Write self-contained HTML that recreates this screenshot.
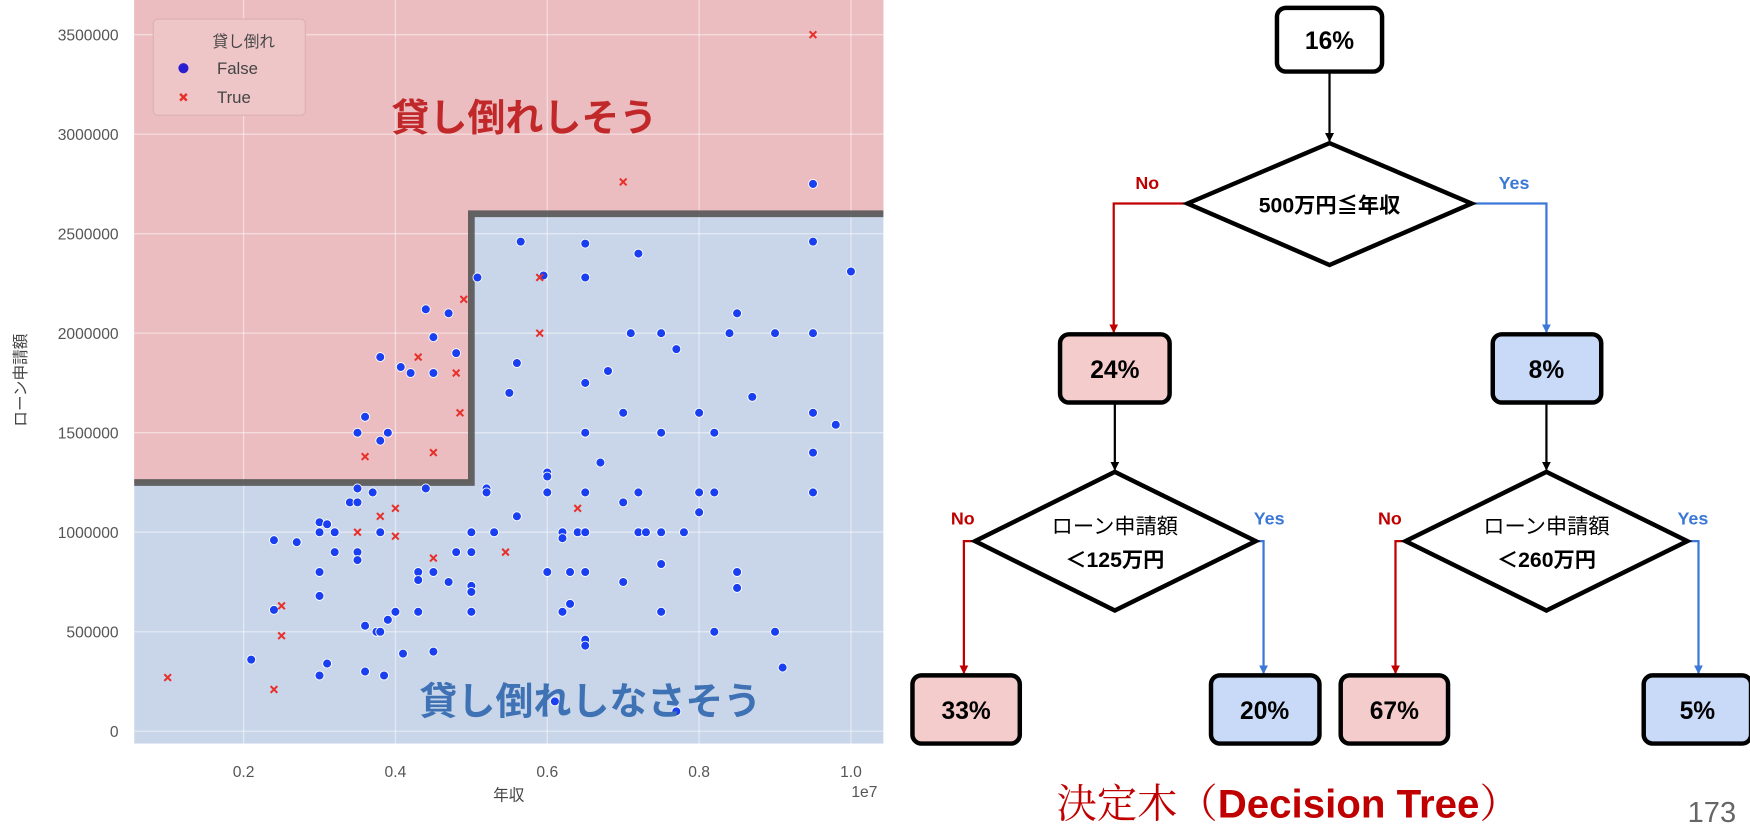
<!DOCTYPE html>
<html><head><meta charset="utf-8"><style>
html,body{margin:0;padding:0;background:#fff;width:1750px;height:833px;overflow:hidden}
svg{display:block}
text{font-family:"Liberation Sans","Noto Sans CJK JP",sans-serif}
</style></head><body>
<svg id="root" width="1750" height="833" viewBox="0 0 1565 745" xmlns="http://www.w3.org/2000/svg">
<g id="chart"></g>
<g id="tree">
  <defs>
    <marker id="ak" markerWidth="8" markerHeight="8" refX="7" refY="4" orient="auto" markerUnits="userSpaceOnUse"><path d="M0,0 L8,4 L0,8 z" fill="#000"/></marker>
    <marker id="ar" markerWidth="8" markerHeight="8" refX="7" refY="4" orient="auto" markerUnits="userSpaceOnUse"><path d="M0,0 L8,4 L0,8 z" fill="#c00000"/></marker>
    <marker id="ab" markerWidth="8" markerHeight="8" refX="7" refY="4" orient="auto" markerUnits="userSpaceOnUse"><path d="M0,0 L8,4 L0,8 z" fill="#3c78d8"/></marker>
  </defs>
  <g fill="none" stroke-width="2">
    <path d="M1189,64 V126" stroke="#000" marker-end="url(#ak)"/>
    <path d="M1062,182 H996 V297" stroke="#c00000" marker-end="url(#ar)"/>
    <path d="M1316,182 H1383 V297" stroke="#3c78d8" marker-end="url(#ab)"/>
    <path d="M997,360 V420" stroke="#000" marker-end="url(#ak)"/>
    <path d="M1383,360 V420" stroke="#000" marker-end="url(#ak)"/>
    <path d="M872,484 H862 V602" stroke="#c00000" marker-end="url(#ar)"/>
    <path d="M1123,484 H1130 V602" stroke="#3c78d8" marker-end="url(#ab)"/>
    <path d="M1257,484 H1248 V602" stroke="#c00000" marker-end="url(#ar)"/>
    <path d="M1509,484 H1519 V602" stroke="#3c78d8" marker-end="url(#ab)"/>
  </g>
  <g stroke="#000" stroke-width="4">
    <rect x="1142" y="7" width="94" height="57" rx="8" fill="#fff"/>
    <polygon points="1062,182 1189,128 1316,182 1189,237" fill="#fff"/>
    <rect x="948" y="299" width="98" height="61" rx="8" fill="#f4cccc"/>
    <rect x="1335" y="299" width="97" height="61" rx="8" fill="#c9daf8"/>
    <polygon points="872,484 997,422 1123,484 997,546" fill="#fff"/>
    <polygon points="1257,484 1383,422 1509,484 1383,546" fill="#fff"/>
    <rect x="816" y="604" width="96" height="61" rx="8" fill="#f4cccc"/>
    <rect x="1083" y="604" width="97" height="61" rx="8" fill="#c9daf8"/>
    <rect x="1199" y="604" width="96" height="61" rx="8" fill="#f4cccc"/>
    <rect x="1470" y="604" width="96" height="61" rx="8" fill="#c9daf8"/>
  </g>
  <g font-weight="bold" font-size="22" text-anchor="middle" fill="#000">
    <text x="1189" y="44">16%</text>
    <text x="997" y="338">24%</text>
    <text x="1383" y="338">8%</text>
    <text x="864" y="643">33%</text>
    <text x="1131" y="643">20%</text>
    <text x="1247" y="643">67%</text>
    <text x="1518" y="643">5%</text>
    <text x="1189" y="190" font-size="19">500万円≦年収</text>
    <text x="997" y="477" font-size="19" font-weight="normal">ローン申請額</text>
    <text x="997" y="507" font-size="19">＜125万円</text>
    <text x="1383" y="477" font-size="19" font-weight="normal">ローン申請額</text>
    <text x="1383" y="507" font-size="19">＜260万円</text>
  </g>
  <g font-weight="bold" font-size="16" text-anchor="middle">
    <text x="1026" y="169" fill="#c00000">No</text>
    <text x="1354" y="169" fill="#3c78d8">Yes</text>
    <text x="861" y="469" fill="#c00000">No</text>
    <text x="1135" y="469" fill="#3c78d8">Yes</text>
    <text x="1243" y="469" fill="#c00000">No</text>
    <text x="1514" y="469" fill="#3c78d8">Yes</text>
  </g>
  <text x="945" y="731" font-size="36" fill="#c00000"><tspan font-family="'Noto Serif CJK SC',serif">決定木（</tspan><tspan font-weight="bold">Decision Tree</tspan><tspan font-family="'Noto Serif CJK SC',serif">）</tspan></text>
  <text x="1531" y="735" font-size="26" fill="#666" text-anchor="middle">173</text>
</g>
<script>
// data: income in millions of yen, loan in 10k yen
const xTicks = [0.2, 0.4, 0.6, 0.8, 1.0];
const yTicks = [0, 500000, 1000000, 1500000, 2000000, 2500000, 3000000, 3500000];
const splitIncome = 5.0;
const thresholdLow = 125;
const thresholdHigh = 260;
const falseX = [2.1,2.4,2.4,2.7,3.0,3.0,3.1,3.2,3.2,3.0,3.0,3.0,3.1,3.4,3.5,3.5,3.5,3.5,3.6,3.6,3.7,3.75,3.8,3.8,3.85,3.9,4.0,4.1,4.3,4.3,4.3,4.4,4.5,4.5,4.7,4.8,5.0,5.0,5.0,5.0,5.0,5.2,5.2,5.3,5.6,6.0,6.0,6.0,6.0,6.2,6.2,6.2,6.3,6.3,6.4,6.5,6.5,6.5,6.5,6.5,6.5,6.7,7.0,7.0,7.0,7.2,7.2,7.3,7.5,7.5,7.5,7.5,7.8,8.0,8.0,8.0,8.2,8.2,8.2,8.5,8.5,9.0,9.1,7.7,6.1,
 5.08,5.65,5.95,6.5,6.5,7.2,7.1,7.5,7.7,6.8,5.6,5.5,8.4,8.5,9.0,9.5,8.7,9.5,10.0,9.5,9.5,9.5,9.8,9.5,6.5,
 4.4,4.7,4.5,4.07,4.2,4.5,3.8,4.8,3.6,3.5,3.9,3.8];
const falseY = [36,96,61,95,105,100,104,100,90,80,68,28,34,115,115,122,90,86,53,30,120,50,50,100,28,56,60,39,80,76,60,122,80,40,75,90,90,100,73,70,60,122,120,100,108,130,128,120,80,100,97,60,64,80,100,100,80,120,150,46,43,135,160,115,75,120,100,100,150,100,84,60,100,120,110,160,150,120,50,80,72,50,32,10,15,
 228,246,229,245,228,240,200,200,192,181,185,170,200,210,200,200,168,246,231,160,140,120,154,275,175,
 212,210,198,183,180,180,188,190,158,150,150,146];
const trueX = [4.9,4.3,4.8,4.85,5.9,5.9,7.0,9.5,3.6,4.5,4.0,3.8,4.0,3.5,4.5,5.45,6.4,1.0,2.4,2.5,2.5];
const trueY = [217,188,180,160,200,228,276,350,138,140,112,108,98,100,87,90,112,27,21,48,63];

const NS = 'http://www.w3.org/2000/svg';
const chart = document.getElementById('chart');
function sx(m){ return 82 + m*67.9; }
function sy(k){ return 654 - k*1.78; }
function mk(tag, attrs, parent){ const e=document.createElementNS(NS,tag); for(const k in attrs) e.setAttribute(k,attrs[k]); (parent||chart).appendChild(e); return e; }
const L=120,R=790,T=0,B=665;
let e;
e = mk('rect',{x:L,y:T,width:R-L,height:B-T,fill:'#c9d6ea'});


const px = sx(splitIncome), yl = sy(thresholdLow), yh = sy(thresholdHigh);
e = mk('path',{d:`M${L},${T} H${R} V${yh} H${px} V${yl} H${L} Z`,fill:'#ebbdc0'});


xTicks.forEach(t=>{
  const x=sx(t*10);
  e=mk('line',{x1:x,x2:x,y1:T,y2:B,stroke:'#fff','stroke-opacity':0.45,'stroke-width':1.2});
  
  
  e=mk('text',{x:x,y:695,'font-size':14,fill:'#555','text-anchor':'middle'}); e.textContent=t.toFixed(1);
  
  
});
yTicks.forEach(t=>{
  const y=sy(t/10000);
  e=mk('line',{x1:L,x2:R,y1:y,y2:y,stroke:'#fff','stroke-opacity':0.45,'stroke-width':1.2});
  
  
  e=mk('text',{x:106,y:y+5,'font-size':14,fill:'#555','text-anchor':'end'}); e.textContent=String(t);
  
  
});
e = mk('path',{d:`M${L},${yl} H${px} V${yh} H${R}`,fill:'none',stroke:'#555','stroke-width':6,'stroke-opacity':0.9});


falseX.forEach((v,i)=>{
  e=mk('circle',{cx:sx(v),cy:sy(falseY[i]),r:4,fill:'#1a3ff0',stroke:'#fff','stroke-width':0.8});
  
  
});
trueX.forEach((v,i)=>{
  const x=sx(v),y=sy(trueY[i]);
  e=mk('path',{d:`M${x-3},${y-3} L${x+3},${y+3} M${x+3},${y-3} L${x-3},${y+3}`,stroke:'#e8302a','stroke-width':1.8});
  
  
});
// legend
e=mk('rect',{x:137,y:17,width:136,height:86,rx:4,fill:'#efc6c8',stroke:'#dcb0b3'});


e=mk('text',{x:190,y:42,'font-size':14,fill:'#444'}); e.textContent='貸し倒れ';


e=mk('circle',{cx:164,cy:61,r:4.5,fill:'#2a1fd0'});


e=mk('text',{x:194,y:66,'font-size':15,fill:'#444'}); e.textContent='False';


e=mk('path',{d:'M161,84 L167,90 M167,84 L161,90',stroke:'#e8302a','stroke-width':2.2});


e=mk('text',{x:194,y:92,'font-size':15,fill:'#444'}); e.textContent='True';


// annotations
e=mk('text',{x:350,y:117,'font-size':34,'font-weight':'bold',fill:'#c0282a'}); e.textContent='貸し倒れしそう';


e=mk('text',{x:375,y:639,'font-size':34,'font-weight':'bold',fill:'#3e72b4'}); e.textContent='貸し倒れしなさそう';


e=mk('text',{x:455,y:716,'font-size':14,fill:'#444','text-anchor':'middle'}); e.textContent='年収';


e=mk('text',{x:773,y:713,'font-size':14,fill:'#555','text-anchor':'middle'}); e.textContent='1e7';


e=mk('text',{x:0,y:0,'font-size':14,fill:'#444','text-anchor':'middle',transform:'translate(23,340) rotate(-90)'}); e.textContent='ローン申請額';


</script>
</svg>
</body></html>
